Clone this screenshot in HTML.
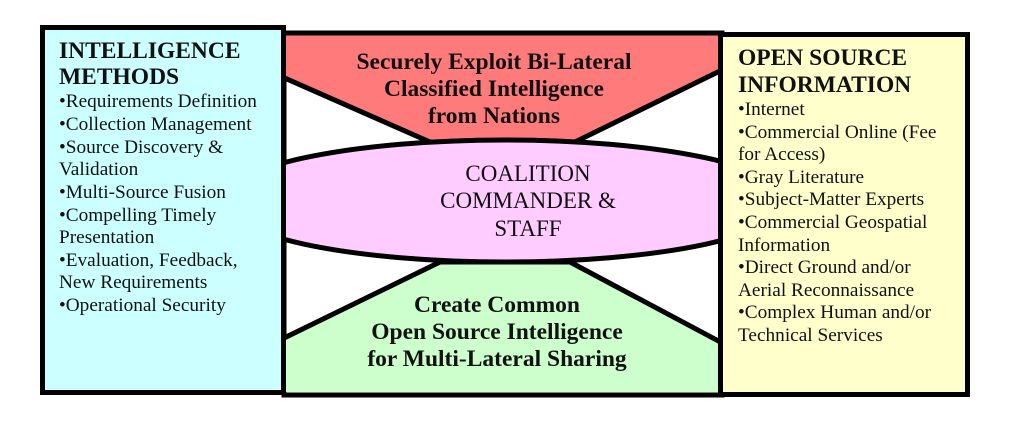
<!DOCTYPE html>
<html><head><meta charset="utf-8"><style>
body{margin:0;background:#fff}
svg{display:block}
text{font-family:"Liberation Serif",serif;fill:#111}
.h{font-weight:bold;font-size:23.5px}
.b{font-size:19.3px}
.c{font-weight:bold;font-size:23.5px;text-anchor:middle}
.m{font-size:23px;text-anchor:middle}
</style></head><body>
<svg width="1024" height="431" viewBox="0 0 1024 431">
<defs><clipPath id="mid"><rect x="286" y="35" width="434" height="357"/></clipPath></defs>
<rect x="284" y="33" width="438" height="362" fill="#fff" stroke="#000" stroke-width="5"/>
<g clip-path="url(#mid)" stroke="#000" stroke-width="5" stroke-linejoin="round">
<polygon points="280,33 726,33 726,68 575,142 430,142 280,76" fill="#ff7b7b"/>
<polygon points="280,340 440,262 570,262 726,345 726,395 280,395" fill="#ccffcc"/>
<ellipse cx="505" cy="201" rx="284" ry="61" fill="#ffccff"/>
</g>
<rect x="42.5" y="27.5" width="241" height="365" fill="#ccffff" stroke="#000" stroke-width="5"/>
<rect x="720.5" y="34.5" width="247" height="360" fill="#ffffcc" stroke="#000" stroke-width="5"/>
<text class="h" x="59" y="58">INTELLIGENCE</text>
<text class="h" x="59" y="84">METHODS</text>
<g class="b">
<text x="59" y="107">•Requirements Definition</text>
<text x="59" y="130">•Collection Management</text>
<text x="59" y="153">•Source Discovery &amp;</text>
<text x="59" y="175">Validation</text>
<text x="59" y="198">•Multi-Source Fusion</text>
<text x="59" y="221">•Compelling Timely</text>
<text x="59" y="243">Presentation</text>
<text x="59" y="266">•Evaluation, Feedback,</text>
<text x="59" y="288">New Requirements</text>
<text x="59" y="311">•Operational Security</text>
</g>
<text class="h" x="738" y="65">OPEN SOURCE</text>
<text class="h" x="738" y="92">INFORMATION</text>
<g class="b">
<text x="738" y="115">•Internet</text>
<text x="738" y="138">•Commercial Online (Fee</text>
<text x="738" y="160">for Access)</text>
<text x="738" y="183">•Gray Literature</text>
<text x="738" y="205">•Subject-Matter Experts</text>
<text x="738" y="228">•Commercial Geospatial</text>
<text x="738" y="251">Information</text>
<text x="738" y="273">•Direct Ground and/or</text>
<text x="738" y="296">Aerial Reconnaissance</text>
<text x="738" y="318">•Complex Human and/or</text>
<text x="738" y="341">Technical Services</text>
</g>
<text class="c" x="494" y="69">Securely Exploit  Bi-Lateral</text>
<text class="c" x="494" y="96">Classified Intelligence</text>
<text class="c" x="494" y="123">from Nations</text>
<text class="m" x="528" y="181">COALITION</text>
<text class="m" x="528" y="208">COMMANDER &amp;</text>
<text class="m" x="528" y="236">STAFF</text>
<text class="c" x="497" y="312">Create Common</text>
<text class="c" x="497" y="339">Open Source Intelligence</text>
<text class="c" x="497" y="366">for Multi-Lateral Sharing</text>
</svg>
</body></html>
